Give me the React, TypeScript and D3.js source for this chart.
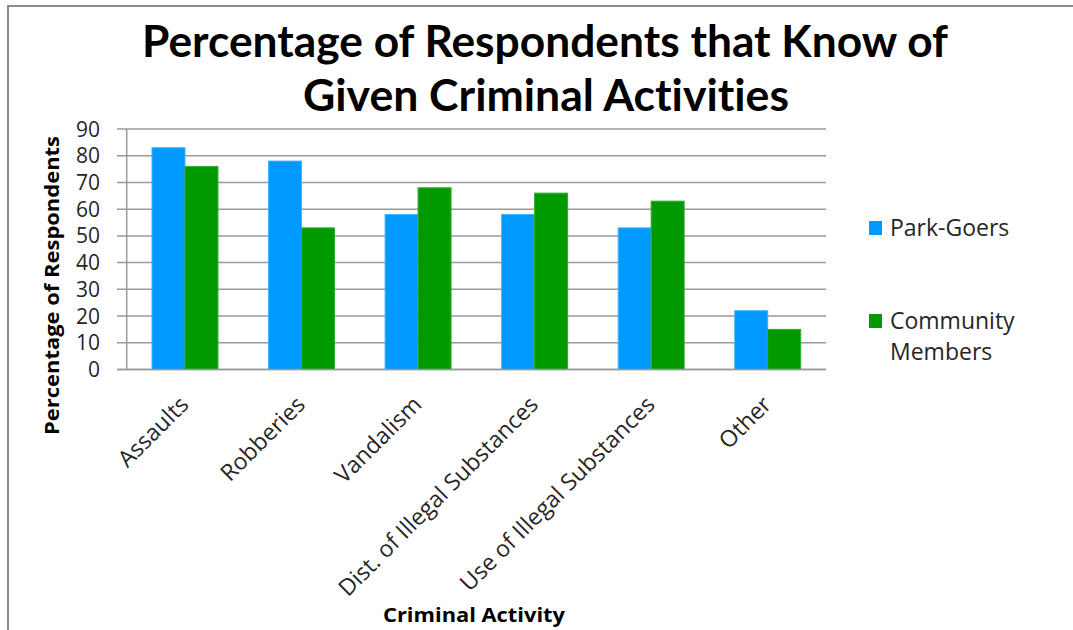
import React from "react";
import * as d3 from "d3";

const categories = [
  "Assaults",
  "Robberies",
  "Vandalism",
  "Dist. of Illegal Substances",
  "Use of Illegal Substances",
  "Other",
];
const seriesNames = ["Park-Goers", "Community Members"];
const parkGoers = [83, 78, 58, 58, 53, 22];
const communityMembers = [76, 53, 68, 66, 63, 15];
const yTicks = [0, 10, 20, 30, 40, 50, 60, 70, 80, 90];
const titleLines = ["Percentage of Respondents that Know of", "Given Criminal Activities"];

const W = 1073;
const H = 630;
const plot = { left: 126.7, right: 826, top: 129, bottom: 369.5 };
const colors = ["#0099FF", "#009900"];
const strokes = ["#44B4FF", "#2EAD2E"];
const FONT = "'Open Sans', 'DejaVu Sans', sans-serif";
const TITLE_FONT = "Lato, 'Open Sans', sans-serif";

export default function App() {
  const x0 = d3
    .scaleBand<string>()
    .domain(categories)
    .range([plot.left, plot.right])
    .paddingInner(0.434)
    .paddingOuter(0.217);
  const x1 = d3
    .scaleBand<string>()
    .domain(seriesNames)
    .range([0, x0.bandwidth()]);
  const y = d3.scaleLinear().domain([0, 90]).range([plot.bottom, plot.top]);
  const series = [parkGoers, communityMembers];

  return (
    <svg
      width={W}
      height={H}
      viewBox={`0 0 ${W} ${H}`}
      style={{ position: "absolute", left: 0, top: 0, background: "#fff", fontVariantLigatures: "none" }}
      fontFamily={FONT}
    >
      <rect x={0} y={0} width={W} height={H} fill="#fff" />
      {/* frame */}
      <line x1={7} x2={W} y1={6} y2={6} stroke="#8c8c8c" strokeWidth={2} />
      <line x1={8} x2={8} y1={5} y2={H} stroke="#8c8c8c" strokeWidth={2} />

      {/* title */}
      <text
        x={545}
        y={57}
        textAnchor="middle"
        fontSize={43}
        fontWeight="bold"
        fontFamily={TITLE_FONT}
        fill="#000"
        textLength={806}
        lengthAdjust="spacingAndGlyphs"
      >
        {titleLines[0]}
      </text>
      <text
        x={546}
        y={111}
        textAnchor="middle"
        fontSize={43}
        fontWeight="bold"
        fontFamily={TITLE_FONT}
        fill="#000"
        textLength={486}
        lengthAdjust="spacingAndGlyphs"
      >
        {titleLines[1]}
      </text>

      {/* gridlines and y ticks */}
      {yTicks.map((t) => (
        <g key={t}>
          <line
            x1={117}
            x2={plot.right}
            y1={y(t)}
            y2={y(t)}
            stroke="#9a9a9a"
            strokeWidth={1.5}
          />
          <text
            x={100}
            y={y(t)}
            dy="0.36em"
            textAnchor="end"
            fontSize={21}
            fill="#262626"
          >
            {t}
          </text>
        </g>
      ))}
      {/* y axis line */}
      <line
        x1={plot.left}
        x2={plot.left}
        y1={plot.top}
        y2={plot.bottom}
        stroke="#9a9a9a"
        strokeWidth={1.5}
      />

      {/* bars */}
      {categories.map((c, i) => (
        <g key={c} transform={`translate(${x0(c)},0)`}>
          {seriesNames.map((s, j) => (
            <rect
              key={s}
              x={x1(s)}
              y={y(series[j][i])}
              width={x1.bandwidth()}
              height={plot.bottom - y(series[j][i])}
              fill={colors[j]}
              stroke={strokes[j]}
              strokeWidth={1}
            />
          ))}
        </g>
      ))}
      {/* bottom axis line */}
      <line
        x1={117}
        x2={plot.right}
        y1={plot.bottom}
        y2={plot.bottom}
        stroke="#9a9a9a"
        strokeWidth={1.5}
      />

      {/* x labels */}
      {categories.map((c) => {
        const cx = (x0(c) as number) + x0.bandwidth() / 2 + 5;
        const cy = 406;
        return (
          <text
            key={c}
            x={cx}
            y={cy}
            textAnchor="end"
            fontSize={23}
            fill="#262626"
            transform={`rotate(-45 ${cx} ${cy})`}
          >
            {c}
          </text>
        );
      })}

      {/* axis titles */}
      <text
        x={474}
        y={622}
        textAnchor="middle"
        fontSize={20}
        fontWeight="bold"
        fill="#000"
        textLength={182}
        lengthAdjust="spacingAndGlyphs"
      >
        Criminal Activity
      </text>
      <text
        transform="translate(59,285.5) rotate(-90)"
        textAnchor="middle"
        fontSize={20}
        fontWeight="bold"
        fill="#000"
        textLength={299}
        lengthAdjust="spacingAndGlyphs"
      >
        Percentage of Respondents
      </text>

      {/* legend */}
      <rect x={869} y={221} width={13} height={14} fill={colors[0]} />
      <text x={890} y={236} fontSize={23} fill="#262626">
        Park-Goers
      </text>
      <rect x={869} y={314} width={13} height={14} fill={colors[1]} />
      <text x={890} y={329} fontSize={23} fill="#262626">
        Community
      </text>
      <text x={890} y={360} fontSize={23} fill="#262626">
        Members
      </text>
    </svg>
  );
}
